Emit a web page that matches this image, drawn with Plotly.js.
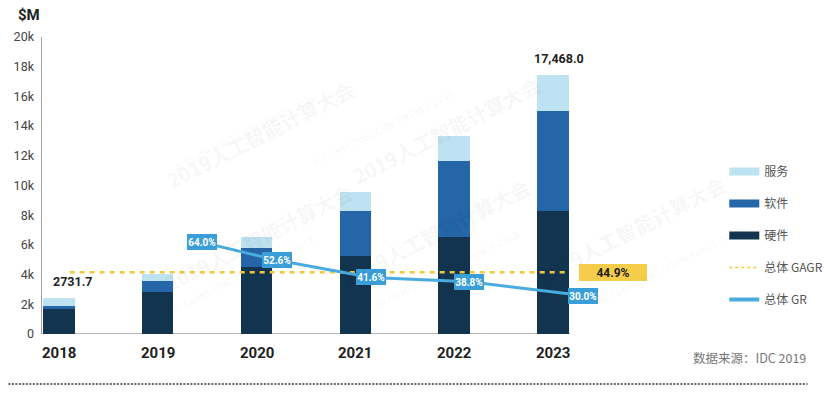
<!DOCTYPE html>
<html>
<head>
<meta charset="utf-8">
<script src="https://cdn.plot.ly/plotly-3.0.1.min.js"></script>
<style>html,body{margin:0;padding:0;background:#fff;}#chart{width:840px;height:395px;}</style>
</head>
<body>
<div id="chart"></div>
<script>
// ---- data ----
const years = ['2018', '2019', '2020', '2021', '2022', '2023'];
const hardware = [1700, 2830, 4500, 5250, 6530, 8280];
const software = [200, 740, 1280, 3030, 5120, 6740];
const services = [550, 470, 740, 1280, 1680, 2450];
const totalLabels = ['2731.7', '', '', '', '', '17,468.0'];
const grValues = [64.0, 52.6, 41.6, 38.8, 30.0];
const grPos = [1.45, 2.21, 3.16, 4.15, 5.30];
const gagrValue = 44.9;
const gagrSpan = [0.11, 5.14];
const yTicks = [0, 2000, 4000, 6000, 8000, 10000, 12000, 14000, 16000, 18000, 20000];
const yTickText = ['0', '2k', '4k', '6k', '8k', '10k', '12k', '14k', '16k', '18k', '20k'];
const legendNames = ['服务', '软件', '硬件', '总体 GAGR', '总体 GR'];

// ---- styles ----
const C_HW = '#12344f', C_SW = '#2566a8', C_SV = '#bde2f1';
const C_GR = '#49abde', C_GRBOX = '#3a9fd8', C_GAGR = '#f2c83c';
const NARROW = 'Roboto, "Liberation Sans", sans-serif';
const CJK = '"Noto Sans CJK SC", "Noto Sans", sans-serif';
const xRange = [-0.17, 6.0];
const xBarEnd = 5.17;
const plotW = 840 - 42 - 182;
const px = p => (p - 42) / plotW;   // pixel column -> paper fraction (decor only)
const py = p => (334 - p) / 297;    // pixel row -> paper fraction (decor only)

const traces = [];
const barCommon = {type: 'bar', width: 0.32, showlegend: false, hoverinfo: 'skip'};
const idx = years.map((y, i) => i);
traces.push(Object.assign({}, barCommon, {name: legendNames[2], x: idx, y: hardware, marker: {color: C_HW, line: {width: 0}}}));
traces.push(Object.assign({}, barCommon, {name: legendNames[1], x: idx, y: software, marker: {color: C_SW, line: {width: 0}}}));
traces.push(Object.assign({}, barCommon, {name: legendNames[0], x: idx, y: services, marker: {color: C_SV, line: {width: 0}}}));

// GAGR dashed line
traces.push({type: 'scatter', mode: 'lines', x: gagrSpan, y: [gagrValue, gagrValue], xaxis: 'x2', yaxis: 'y2',
  line: {color: C_GAGR, width: 2.5, dash: '5px,5px'}, showlegend: false, hoverinfo: 'skip'});
// GR line
traces.push({type: 'scatter', mode: 'lines', x: grPos, y: grValues, xaxis: 'x2', yaxis: 'y2',
  line: {color: C_GR, width: 3}, showlegend: false, hoverinfo: 'skip'});

// legend entries (line swatches)
const legColors = [C_SV, C_SW, C_HW];
legColors.forEach((c, i) => {
  traces.push({type: 'scatter', mode: 'lines', x: [null], y: [null], xaxis: 'x2', yaxis: 'y2', name: legendNames[i],
    line: {color: c, width: 8}, legendrank: i + 1, legendgroup: 'g' + i, hoverinfo: 'skip'});
});
traces.push({type: 'scatter', mode: 'lines', x: [null], y: [null], xaxis: 'x2', yaxis: 'y2', name: legendNames[3],
  line: {color: C_GAGR, width: 1.5, dash: '3px,3px'}, legendrank: 4, legendgroup: 'g3', hoverinfo: 'skip'});
traces.push({type: 'scatter', mode: 'lines', x: [null], y: [null], xaxis: 'x2', yaxis: 'y2', name: legendNames[4],
  line: {color: C_GR, width: 4}, legendrank: 5, legendgroup: 'g4', hoverinfo: 'skip'});

const annotations = [];
// year labels
years.forEach((yr, i) => {
  annotations.push({x: i, y: 0, xref: 'x', yref: 'y', text: yr, showarrow: false, yanchor: 'top', yshift: -8,
    font: {family: NARROW, size: 15, color: '#222', weight: 'bold'}});
});
// totals
years.forEach((yr, i) => {
  if (!totalLabels[i]) return;
  const tot = hardware[i] + software[i] + services[i];
  annotations.push({x: i, y: tot, xref: 'x', yref: 'y', text: totalLabels[i], showarrow: false,
    yanchor: 'bottom', yshift: 7, xshift: i === 0 ? 14 : 6,
    font: {family: NARROW, size: 12.5, color: '#222', weight: 'bold'}});
});
// GR labels
grValues.forEach((v, i) => {
  annotations.push({x: grPos[i], y: v, xref: 'x2', yref: 'y2', text: v.toFixed(1) + '%', showarrow: false,
    bgcolor: C_GRBOX, borderpad: 1, borderwidth: 0, width: 28, height: 14,
    font: {family: NARROW, size: 10, color: '#ffffff', weight: 'bold'}});
});
// GAGR label
annotations.push({x: 5.61, y: gagrValue, xref: 'x2', yref: 'y2', text: gagrValue.toFixed(1) + '%', showarrow: false,
  bgcolor: '#f5cd48', borderpad: 2, borderwidth: 0, width: 64, height: 13,
  font: {family: NARROW, size: 12, color: '#222', weight: 'bold'}});
// $M
annotations.push({x: px(29), y: py(15), xref: 'paper', yref: 'paper', text: '$M', showarrow: false,
  xanchor: 'center', yanchor: 'middle', font: {family: NARROW, size: 15, color: '#222', weight: 'bold'}});
// source
annotations.push({x: px(816), y: py(357), xref: 'paper', yref: 'paper', text: '数据来源：IDC 2019', showarrow: false,
  xanchor: 'right', yanchor: 'middle', font: {family: CJK, size: 12.5, color: '#777'}});
// watermarks
const wm = [[160, 72], [450, 68], [158, 300], [440, 295], [740, 292]];
wm.forEach(p => {
  annotations.push({x: px(p[0]), y: py(p[1]), xref: 'paper', yref: 'paper', text: '2019人工智能计算大会', showarrow: false,
    textangle: -27, font: {family: CJK, size: 20, color: 'rgba(0,0,0,0.05)', weight: 'bold'}});
  annotations.push({x: px(p[0] + 12), y: py(p[1] + 18), xref: 'paper', yref: 'paper', text: 'AI COMPUTING CONFERENCE 2019', showarrow: false,
    textangle: -27, font: {family: 'DejaVu Sans', size: 9, color: 'rgba(0,0,0,0.05)'}});
});

const layout = {
  width: 840, height: 395,
  margin: {l: 42, r: 182, t: 37, b: 61},
  paper_bgcolor: '#ffffff', plot_bgcolor: '#ffffff',
  barmode: 'stack', bargap: 0,
  xaxis: {range: xRange, showgrid: false, zeroline: false, showline: false, showticklabels: false, ticks: '', fixedrange: true},
  yaxis: {range: [0, 20000], tickvals: yTicks, ticktext: yTickText, showgrid: false, zeroline: false,
    showline: true, linecolor: '#a0a0a0', linewidth: 1.5, ticks: '', ticklabelstandoff: 4,
    tickfont: {family: NARROW, size: 12.5, color: '#444'}, fixedrange: true},
  xaxis2: {overlaying: 'x', range: xRange, visible: false, fixedrange: true},
  yaxis2: {overlaying: 'y', range: [5.4, 195.4], visible: false, fixedrange: true},
  showlegend: true,
  legend: {x: px(731), y: py(157), xanchor: 'left', yanchor: 'top', tracegroupgap: 13, itemwidth: 30,
    font: {family: CJK, size: 12, color: '#555'}, bgcolor: 'rgba(0,0,0,0)'},
  annotations: annotations,
  shapes: [
    {type: 'line', xref: 'x', yref: 'y', x0: xRange[0], x1: xBarEnd, y0: 0, y1: 0, layer: 'below',
      line: {color: '#a0a0a0', width: 1.5}},
    {type: 'line', xref: 'paper', yref: 'paper', x0: px(8), x1: px(815), y0: py(384), y1: py(384),
      line: {color: '#333', width: 1.5, dash: '2px,1.5px'}}
  ]
};

Plotly.newPlot('chart', traces, layout, {displayModeBar: false, staticPlot: true});
</script>
</body>
</html>
